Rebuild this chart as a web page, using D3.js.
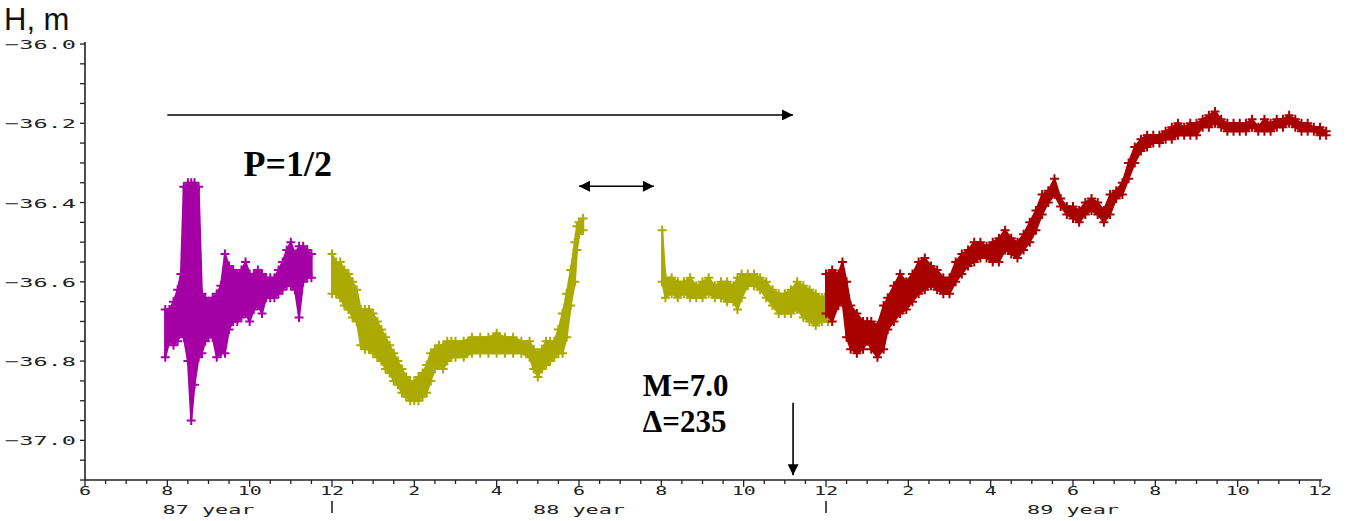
<!DOCTYPE html>
<html>
<head>
<meta charset="utf-8">
<script src="https://cdn.jsdelivr.net/npm/d3@7"></script>
<style>
  body { margin: 0; background: #ffffff; }
  svg { display: block; }
</style>
</head>
<body>
<svg id="chart"></svg>
<script>
// time is months counted from Jan 1987 (6 = Jun 87, 18 = Jun 88, 36 = Dec 89)
// each sample: [month, low H, high H]
const magenta = [
  [7.95, -36.79, -36.67], [8.05, -36.75, -36.67], [8.15, -36.76, -36.65], [8.25, -36.75, -36.62],
  [8.33, -36.73, -36.58], [8.40, -36.74, -36.36], [8.50, -36.80, -36.35], [8.58, -36.95, -36.35],
  [8.66, -36.86, -36.35], [8.76, -36.79, -36.36], [8.84, -36.78, -36.63], [8.92, -36.75, -36.64],
  [9.00, -36.74, -36.65], [9.10, -36.74, -36.64], [9.20, -36.79, -36.63], [9.30, -36.78, -36.61],
  [9.40, -36.78, -36.53], [9.50, -36.72, -36.56], [9.60, -36.70, -36.57], [9.70, -36.70, -36.58],
  [9.80, -36.69, -36.57], [9.90, -36.68, -36.55], [10.0, -36.70, -36.58], [10.1, -36.67, -36.58],
  [10.2, -36.66, -36.57], [10.3, -36.68, -36.58], [10.4, -36.64, -36.59], [10.5, -36.64, -36.59],
  [10.6, -36.64, -36.59], [10.7, -36.63, -36.57], [10.8, -36.62, -36.55], [10.9, -36.61, -36.52],
  [11.0, -36.61, -36.50], [11.1, -36.62, -36.53], [11.2, -36.69, -36.51], [11.3, -36.60, -36.51],
  [11.4, -36.59, -36.52], [11.5, -36.59, -36.53]
];

const olive1 = [
  [12.0, -36.63, -36.53], [12.1, -36.63, -36.55], [12.2, -36.64, -36.55], [12.3, -36.66, -36.57],
  [12.4, -36.67, -36.58], [12.5, -36.69, -36.60], [12.6, -36.70, -36.62], [12.7, -36.76, -36.67],
  [12.8, -36.77, -36.67], [12.9, -36.77, -36.67], [13.0, -36.78, -36.68], [13.1, -36.79, -36.70],
  [13.2, -36.80, -36.72], [13.3, -36.82, -36.74], [13.4, -36.83, -36.76], [13.5, -36.85, -36.78],
  [13.6, -36.86, -36.80], [13.7, -36.88, -36.82], [13.8, -36.89, -36.84], [13.9, -36.90, -36.85],
  [14.0, -36.90, -36.85], [14.1, -36.90, -36.84], [14.2, -36.89, -36.83], [14.3, -36.88, -36.81],
  [14.4, -36.85, -36.78], [14.5, -36.82, -36.77], [14.6, -36.81, -36.76], [14.7, -36.82, -36.76],
  [14.8, -36.80, -36.75], [14.9, -36.79, -36.75], [15.0, -36.79, -36.75], [15.2, -36.79, -36.75],
  [15.4, -36.78, -36.74], [15.6, -36.78, -36.74], [15.8, -36.78, -36.74], [16.0, -36.78, -36.73],
  [16.2, -36.78, -36.74], [16.4, -36.78, -36.74], [16.6, -36.78, -36.75], [16.8, -36.79, -36.75],
  [16.9, -36.82, -36.77], [17.0, -36.84, -36.78], [17.1, -36.82, -36.77], [17.2, -36.81, -36.75],
  [17.3, -36.80, -36.75], [17.4, -36.79, -36.75], [17.5, -36.78, -36.72], [17.6, -36.78, -36.68],
  [17.7, -36.74, -36.63], [17.8, -36.66, -36.57], [17.9, -36.60, -36.50], [17.95, -36.52, -36.46],
  [18.0, -36.48, -36.45], [18.1, -36.47, -36.44]
];

const olive2 = [
  [20.02, -36.60, -36.47], [20.1, -36.64, -36.59], [20.25, -36.63, -36.59], [20.4, -36.64, -36.60],
  [20.55, -36.63, -36.60], [20.7, -36.64, -36.59], [20.85, -36.64, -36.61], [21.0, -36.64, -36.60],
  [21.15, -36.63, -36.59], [21.3, -36.64, -36.61], [21.45, -36.64, -36.60], [21.6, -36.65, -36.60],
  [21.75, -36.65, -36.61], [21.85, -36.67, -36.59], [21.95, -36.64, -36.58], [22.1, -36.61, -36.58],
  [22.25, -36.61, -36.58], [22.4, -36.62, -36.59], [22.55, -36.64, -36.60], [22.7, -36.66, -36.62],
  [22.85, -36.68, -36.63], [23.0, -36.68, -36.63], [23.15, -36.68, -36.62], [23.3, -36.67, -36.60],
  [23.45, -36.69, -36.61], [23.6, -36.70, -36.62], [23.75, -36.71, -36.63], [23.9, -36.70, -36.64],
  [24.05, -36.70, -36.63]
];

const red = [
  [24.0, -36.68, -36.58], [24.15, -36.70, -36.57], [24.3, -36.66, -36.58], [24.4, -36.65, -36.55],
  [24.5, -36.74, -36.60], [24.6, -36.77, -36.66], [24.75, -36.78, -36.68], [24.9, -36.77, -36.70],
  [25.0, -36.75, -36.70], [25.1, -36.77, -36.70], [25.25, -36.79, -36.71], [25.4, -36.77, -36.66],
  [25.5, -36.72, -36.64], [25.65, -36.70, -36.61], [25.8, -36.68, -36.58], [25.95, -36.67, -36.60],
  [26.1, -36.65, -36.58], [26.25, -36.63, -36.55], [26.4, -36.62, -36.54], [26.55, -36.61, -36.56],
  [26.7, -36.62, -36.57], [26.85, -36.63, -36.59], [27.0, -36.63, -36.59], [27.15, -36.60, -36.55],
  [27.3, -36.58, -36.53], [27.45, -36.56, -36.52], [27.6, -36.55, -36.50], [27.75, -36.54, -36.50],
  [27.9, -36.54, -36.51], [28.05, -36.55, -36.50], [28.2, -36.55, -36.49], [28.35, -36.52, -36.47],
  [28.5, -36.53, -36.49], [28.65, -36.54, -36.50], [28.8, -36.52, -36.48], [28.95, -36.50, -36.45],
  [29.1, -36.47, -36.42], [29.25, -36.43, -36.38], [29.4, -36.40, -36.37], [29.55, -36.38, -36.34],
  [29.7, -36.41, -36.39], [29.85, -36.43, -36.41], [30.0, -36.44, -36.41], [30.15, -36.45, -36.42],
  [30.3, -36.43, -36.40], [30.45, -36.42, -36.39], [30.6, -36.43, -36.40], [30.75, -36.45, -36.42],
  [30.9, -36.43, -36.38], [31.05, -36.39, -36.37], [31.2, -36.38, -36.35], [31.35, -36.34, -36.30],
  [31.5, -36.30, -36.26], [31.65, -36.27, -36.24], [31.8, -36.26, -36.23], [31.95, -36.25, -36.23],
  [32.1, -36.25, -36.23], [32.25, -36.24, -36.22], [32.4, -36.24, -36.21], [32.55, -36.23, -36.20],
  [32.7, -36.23, -36.21], [32.85, -36.23, -36.20], [33.0, -36.23, -36.20], [33.15, -36.21, -36.19],
  [33.3, -36.21, -36.18], [33.45, -36.20, -36.17], [33.6, -36.21, -36.19], [33.75, -36.22, -36.20],
  [33.9, -36.22, -36.20], [34.05, -36.22, -36.20], [34.2, -36.22, -36.20], [34.35, -36.21, -36.19],
  [34.5, -36.22, -36.21], [34.65, -36.22, -36.19], [34.8, -36.22, -36.20], [34.95, -36.21, -36.19],
  [35.1, -36.21, -36.19], [35.25, -36.20, -36.18], [35.4, -36.21, -36.19], [35.55, -36.22, -36.20],
  [35.7, -36.22, -36.20], [35.85, -36.22, -36.21], [36.0, -36.23, -36.21], [36.15, -36.23, -36.22]
];

const yTickLabels = [-37.0, -36.8, -36.6, -36.4, -36.2, -36.0];
const xTickMonths = [6, 8, 10, 12, 14, 16, 18, 20, 22, 24, 26, 28, 30, 32, 34, 36];
const yearLabels = [[9, "87 year"], [18, "88 year"], [30, "89 year"]];
const yearBreaks = [12, 24];

const width = 1351, height = 521;
const svg = d3.select("#chart").attr("width", width).attr("height", height);

const x = d3.scaleLinear().domain([6, 36]).range([85, 1320]);
const y = d3.scaleLinear().domain([-37.1, -36.0]).range([480, 44]);

const monthLabel = m => String(((m - 1) % 12) + 1);
const pixFont = "'DejaVu Sans Mono', monospace";

// y axis
const yAxis = svg.append("g").attr("transform", `translate(${x(6)},0)`);
yAxis.append("line")
  .attr("y1", y(-37.1)).attr("y2", y(-36.0) - 2)
  .attr("stroke", "#222").attr("stroke-width", 1.6);
yAxis.selectAll(".ytick")
  .data(d3.range(-37.1, -35.99, 0.05))
  .enter().append("line")
  .attr("x1", -5).attr("x2", 0)
  .attr("y1", d => y(d)).attr("y2", d => y(d))
  .attr("stroke", "#222").attr("stroke-width", 1.3);
yAxis.selectAll(".ylab")
  .data(yTickLabels)
  .enter().append("text")
  .attr("x", -80).attr("y", d => y(d) + 5)
  .attr("font-family", pixFont).attr("font-size", 13)
  .attr("textLength", 71).attr("lengthAdjust", "spacingAndGlyphs")
  .attr("fill", "#222")
  .text(d => "\u2212" + Math.abs(d).toFixed(1));

svg.append("text")
  .attr("x", 4).attr("y", 30)
  .attr("font-family", "'Liberation Sans', Arial, sans-serif")
  .attr("font-size", 31).attr("fill", "#111")
  .text("H, m");

// x axis
const xAxis = svg.append("g").attr("transform", `translate(0,${y(-37.1)})`);
xAxis.append("line")
  .attr("x1", x(6)).attr("x2", x(36) + 2)
  .attr("stroke", "#222").attr("stroke-width", 1.6);
xAxis.selectAll(".xtick")
  .data(d3.range(6, 36.01, 0.5))
  .enter().append("line")
  .attr("x1", d => x(d)).attr("x2", d => x(d))
  .attr("y1", 0).attr("y2", d => (d % 2 === 0 ? 7 : 4))
  .attr("stroke", "#222").attr("stroke-width", 1.3);
xAxis.selectAll(".xlab")
  .data(xTickMonths)
  .enter().append("text")
  .attr("x", d => x(d)).attr("y", 15)
  .attr("text-anchor", "middle")
  .attr("font-family", pixFont).attr("font-size", 13)
  .attr("textLength", d => monthLabel(d).length * 12)
  .attr("lengthAdjust", "spacingAndGlyphs")
  .attr("fill", "#222")
  .text(d => monthLabel(d));
xAxis.selectAll(".year")
  .data(yearLabels)
  .enter().append("text")
  .attr("x", d => x(d[0])).attr("y", 34)
  .attr("text-anchor", "middle")
  .attr("font-family", pixFont).attr("font-size", 13)
  .attr("textLength", 92).attr("lengthAdjust", "spacingAndGlyphs")
  .attr("fill", "#222")
  .text(d => d[1]);
xAxis.selectAll(".ybreak")
  .data(yearBreaks)
  .enter().append("line")
  .attr("x1", d => x(d)).attr("x2", d => x(d))
  .attr("y1", 21).attr("y2", 33)
  .attr("stroke", "#222").attr("stroke-width", 1.6);

// series
const plus = "M-4.5,0H4.5M0,-4.5V4.5";
function drawSeries(data, color) {
  const g = svg.append("g");
  g.append("path")
    .datum(data)
    .attr("fill", color)
    .attr("stroke", color).attr("stroke-width", 2)
    .attr("d", d3.area().x(d => x(d[0])).y0(d => y(d[1])).y1(d => y(d[2])));
  g.selectAll(".stem")
    .data(data)
    .enter().append("line")
    .attr("x1", d => x(d[0])).attr("x2", d => x(d[0]))
    .attr("y1", d => y(d[1])).attr("y2", d => y(d[2]))
    .attr("stroke", color).attr("stroke-width", 2);
  g.selectAll(".mk")
    .data(data.flatMap(d => [[d[0], d[1]], [d[0], d[2]]]))
    .enter().append("path")
    .attr("d", plus)
    .attr("transform", d => `translate(${x(d[0])},${y(d[1])})`)
    .attr("stroke", color).attr("stroke-width", 2).attr("fill", "none");
}
drawSeries(magenta, "#a500a5");
drawSeries(olive1, "#aaaa00");
drawSeries(olive2, "#aaaa00");
drawSeries(red, "#a80000");

// annotations
const defs = svg.append("defs");
defs.append("marker")
  .attr("id", "head").attr("viewBox", "0 0 10 10")
  .attr("refX", 10).attr("refY", 5)
  .attr("markerWidth", 16).attr("markerHeight", 11)
  .attr("markerUnits", "userSpaceOnUse")
  .attr("orient", "auto-start-reverse")
  .append("path").attr("d", "M0,0L10,5L0,10Z").attr("fill", "#000");

function arrow(t1, h1, t2, h2, both) {
  const l = svg.append("line")
    .attr("x1", x(t1)).attr("y1", y(h1))
    .attr("x2", x(t2)).attr("y2", y(h2))
    .attr("stroke", "#000").attr("stroke-width", 1.6)
    .attr("marker-end", "url(#head)");
  if (both) l.attr("marker-start", "url(#head)");
}
arrow(8, -36.179, 23.2, -36.179, false);
arrow(18, -36.359, 19.82, -36.359, true);
arrow(23.2, -36.905, 23.2, -37.088, false);

const serif = "'Liberation Serif', 'Times New Roman', serif";
svg.append("text").attr("x", x(9.85)).attr("y", y(-36.333))
  .attr("font-family", serif).attr("font-weight", "bold").attr("font-size", 36)
  .text("P=1/2");
svg.append("text").attr("x", x(19.55)).attr("y", y(-36.888))
  .attr("font-family", serif).attr("font-weight", "bold").attr("font-size", 31)
  .text("M=7.0");
svg.append("text").attr("x", x(19.55)).attr("y", y(-36.98))
  .attr("font-family", serif).attr("font-weight", "bold").attr("font-size", 31)
  .text("\u0394=235");
</script>
</body>
</html>
